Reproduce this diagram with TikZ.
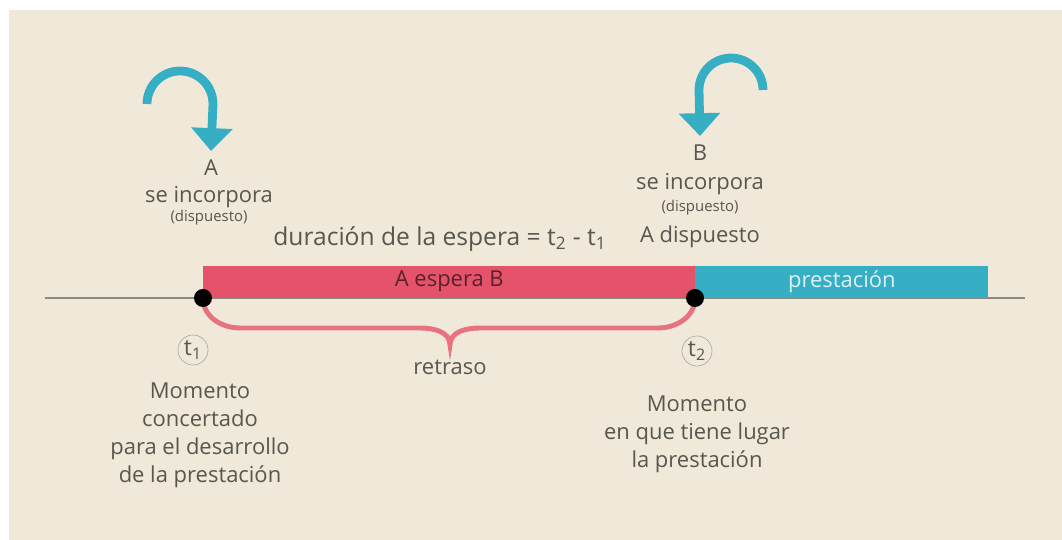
\documentclass[tikz,border=0pt]{standalone}
\usepackage{fontspec}
\setmainfont{Open Sans}
\usetikzlibrary{arrows.meta}
\definecolor{fondo}{HTML}{F0E9D9}
\definecolor{texto}{HTML}{57564F}
\definecolor{rojo}{HTML}{E4536A}
\definecolor{azul}{HTML}{36AFC5}
\definecolor{llave}{HTML}{E8727F}
\definecolor{linea}{HTML}{8C8A80}
\tikzset{
  txt/.style={text=texto, font=\fontsize{12.5}{15.9}\selectfont, inner sep=1pt},
  peq/.style={text=texto, font=\fontsize{8.5}{10}\selectfont, inner sep=1pt},
  giro/.style={draw=azul, line width=5pt, -{Triangle[width=23pt,length=13pt]}},
  punto/.style={fill=black, circle, inner sep=0pt, minimum size=0.36cm},
  tiempo/.style={draw=linea!70, circle, inner sep=0pt, minimum size=0.6cm, text=texto, font=\fontsize{13}{14}\selectfont},
  barra/.style={anchor=south west, minimum height=0.64cm, inner sep=0pt, font=\fontsize{12.5}{14}\selectfont},
}

\begin{document}
\begin{tikzpicture}[x=0.02cm, y=0.02cm]
				\useasboundingbox (0,0) rectangle (1062,540);
				\fill[white] (0,0) rectangle (1062,540);
				\fill[fondo] (9,0) rectangle (1062,530);
				% eje de tiempo
				\coordinate (ini) at (45,242);
				\coordinate (fin) at (1025,242);
				\coordinate (p1) at (203,242);
				\coordinate (p2) at (695,242);
				\coordinate (pico) at (450,195);
				\draw[linea, line width=1.2pt] (ini) -- (fin);
				\node[barra, fill=rojo, minimum width=9.84cm, text=rojo!40!black] (espera) at (p1) {A espera B};
				\node[barra, fill=azul, minimum width=5.86cm, text=azul!18!white] (prestacion) at (p2) {prestación};
				\draw[llave, line width=2.8pt] (p1) to[out=-90,in=180] (240,212) -- (420,212) to[out=0,in=90] (pico)
					to[out=90,in=180] (480,212) -- (658,212) to[out=0,in=-90] (p2);
				\node[punto] (d1) at (p1) {};
				\node[punto] (d2) at (p2) {};
				% llegadas
				\node[txt] (A) at (211,372) {A};
				\node[txt] (seA) at (209,343) {se incorpora};
				\node[peq] (dispA) at (209,322) {(dispuesto)};
				\node[txt] (B) at (700,387) {B};
				\node[txt] (seB) at (700,356) {se incorpora};
				\node[peq] (dispB) at (700,332) {(dispuesto)};
				\node[txt] (listoA) at (700,303) {A dispuesto};
				\node[txt, font=\fontsize{14}{16}\selectfont] (duracion) at (440,301) {duración de la espera = t\textsubscript{2} - t\textsubscript{1}};
				\coordinate (iniA) at (147,436);
				\coordinate (iniB) at (763,450);
				\draw[giro] (iniA) arc[start angle=180, end angle=0, radius=0.66cm] -- ([yshift=4pt]A.north);
				\draw[giro] (iniB) arc[start angle=0, end angle=180, radius=0.64cm] -- ([yshift=4pt]B.north);
				% momentos
				\node[tiempo] (t1) at (193,190) {t\textsubscript{1}};
				\node[tiempo] (t2) at (697,189) {t\textsubscript{2}};
				\node[txt] (retraso) at (450,173) {retraso};
				\node[txt, align=center] (concertado) at (200,105) {Momento\\concertado\\para el desarrollo\\de la prestación};
				\node[txt, align=center] (lugar) at (697,106) {Momento\\en que tiene lugar\\la prestación};
			\end{tikzpicture}
\end{document}
